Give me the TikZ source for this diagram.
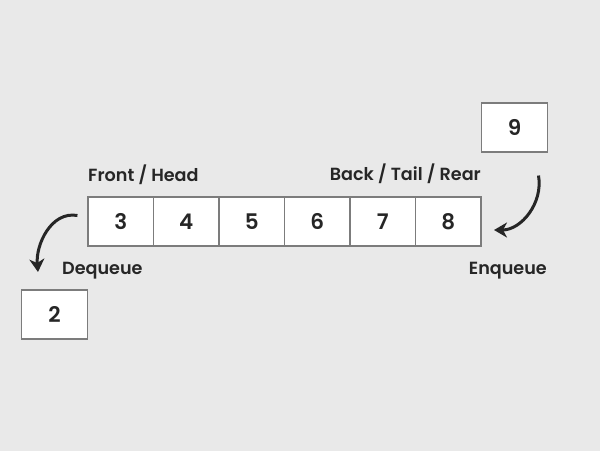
\documentclass[tikz,border=0pt]{standalone}
\usepackage{fontspec}
\setmainfont{Poppins}[UprightFont={* SemiBold}]
\usetikzlibrary{arrows.meta}
\definecolor{paper}{HTML}{E9E9E9}
\definecolor{ink}{HTML}{262626}
\definecolor{rim}{HTML}{7C7C7C}
\begin{document}
\begin{tikzpicture}
[
    x=1pt, y=-1pt,
    cell/.style={draw=rim, fill=white, line width=1.1pt, inner sep=0pt,
        minimum width=65.5pt, minimum height=49pt, text=ink,
        font=\fontsize{21.5}{21.5}\selectfont},
    tag/.style={text=ink, inner sep=0pt, font=\fontsize{17.6}{17.6}\selectfont},
    move/.style={-{Stealth[length=13pt,width=15pt,inset=4pt]}, line width=3pt, draw=ink},
]
    \fill[paper] (0,0) rectangle (600,451);

    \foreach \v [count=\i] in {3,...,8}
        \node[cell] (C\i) at ({88+65.5*(\i-0.5)}, 221.5) {\v};
    \node[cell] (In) at (514.5, 127.5) {9};
    \node[cell] (Out) at (54.5, 314.5) {2};

    \node[tag, anchor=base west] (front) at (88, 181) {Front / Head};
    \node[tag, anchor=base east] (back) at (481, 180) {Back / Tail / Rear};
    \node[tag, anchor=base west] (deq) at (62, 274) {Dequeue};
    \node[tag, anchor=base east] (enq) at (547, 274.5) {Enqueue};

    \coordinate (DeqEnd) at (38, 272);
    \coordinate (EnqEnd) at (494, 230);
    \draw[move] ([xshift=-10pt, yshift=6pt]C1.west) to [out=170, in=95] (DeqEnd);
    \draw[move] ([xshift=24pt, yshift=-23pt]In.south) to [out=-80, in=0] (EnqEnd);
\end{tikzpicture}
\end{document}
